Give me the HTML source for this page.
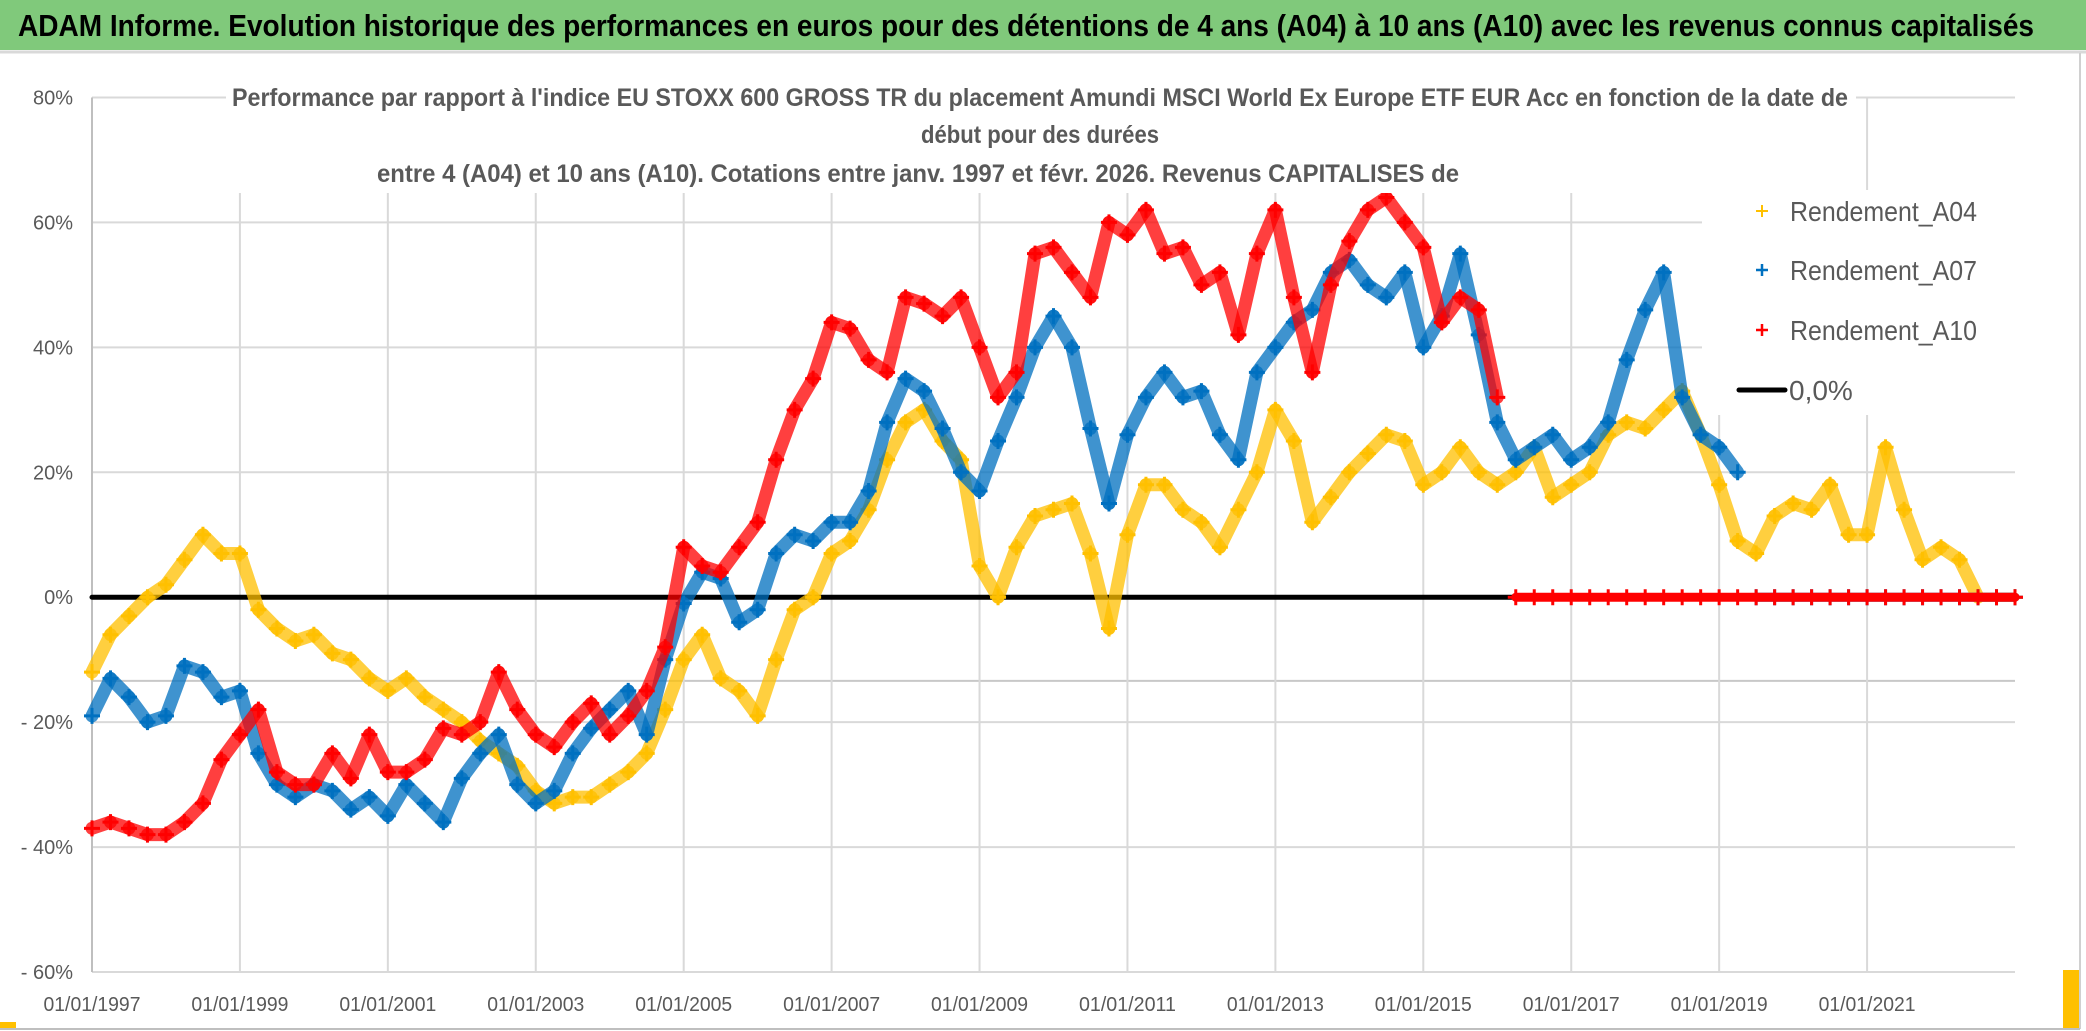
<!DOCTYPE html>
<html><head><meta charset="utf-8"><style>
html,body{margin:0;padding:0;background:#fff;}
svg{display:block;}
text{font-family:"Liberation Sans",sans-serif;}
</style></head><body>
<svg id="chart" width="2086" height="1031" viewBox="0 0 2086 1031" xmlns="http://www.w3.org/2000/svg">
<rect x="0" y="0" width="2086" height="1031" fill="#fff"/>
<rect x="0" y="0" width="2086" height="50" fill="#80c97b"/>
<line x1="0" y1="52" x2="2086" y2="52" stroke="#d9d9d9" stroke-width="3"/>
<text x="18" y="36" font-size="31" font-weight="bold" fill="#000" textLength="2016" lengthAdjust="spacingAndGlyphs">ADAM Informe. Evolution historique des performances en euros pour des détentions de 4 ans (A04) à 10 ans (A10) avec les revenus connus capitalisés</text>
<g id="grid"></g>
<g id="axes"></g>
<g id="series"></g>
<rect x="226" y="78" width="1630" height="115" fill="#fff"/>
<g fill="#595959" font-size="25" font-weight="bold" text-anchor="middle">
<text x="1040" y="106" textLength="1616" lengthAdjust="spacingAndGlyphs">Performance par rapport à l'indice EU STOXX 600 GROSS TR  du placement Amundi MSCI World Ex Europe ETF EUR Acc en fonction de la date de</text>
<text x="1040" y="143" textLength="238" lengthAdjust="spacingAndGlyphs">début pour des durées</text>
<text x="918" y="182" textLength="1082" lengthAdjust="spacingAndGlyphs">entre 4 (A04) et 10 ans (A10). Cotations entre janv. 1997 et févr. 2026. Revenus CAPITALISES de</text>
</g>
<rect x="1702" y="190" width="313" height="225" fill="#fff"/>
<g id="legend" font-size="28" fill="#595959">
<g><path d="M1756 211h12M1762 205v12" stroke="#FFC000" stroke-width="2"/><text x="1790" y="221" textLength="187" lengthAdjust="spacingAndGlyphs">Rendement_A04</text></g>
<g><path d="M1756 270h12M1762 264v12" stroke="#0070C0" stroke-width="2.5"/><text x="1790" y="280" textLength="187" lengthAdjust="spacingAndGlyphs">Rendement_A07</text></g>
<g><path d="M1756 330h12M1762 324v12" stroke="#FF0000" stroke-width="2.5"/><text x="1790" y="340" textLength="187" lengthAdjust="spacingAndGlyphs">Rendement_A10</text></g>
<g><line x1="1739" y1="390" x2="1785" y2="390" stroke="#000" stroke-width="5" stroke-linecap="round"/><text x="1789" y="400">0,0%</text></g>
</g>
<line x1="2080" y1="53" x2="2080" y2="1029" stroke="#d0d0d0" stroke-width="2"/>
<line x1="0" y1="1029" x2="2080" y2="1029" stroke="#bfbfbf" stroke-width="2"/>
<rect x="2063" y="970" width="16" height="58" fill="#FFC000"/>
<rect x="0" y="1022" width="16" height="6" fill="#FFC000"/>
</svg>
<script>
const yTicks = [80, 60, 40, 20, 0, -20, -40, -60];
const yTickLabels = ["80%", "60%", "40%", "20%", "0%", "- 20%", "- 40%", "- 60%"];
const xTicks = [1997, 1999, 2001, 2003, 2005, 2007, 2009, 2011, 2013, 2015, 2017, 2019, 2021];
const xTickLabels = ["01/01/1997","01/01/1999","01/01/2001","01/01/2003","01/01/2005","01/01/2007","01/01/2009","01/01/2011","01/01/2013","01/01/2015","01/01/2017","01/01/2019","01/01/2021"];
const startYear = 1997;
const stepYears = 0.25;
const a04Values = [-12,-6,-3,0, 2,6,10,7, 7,-2,-5,-7, -6,-9,-10,-13, -15,-13,-16,-18, -20,-23,-25,-27, -31,-33,-32,-32, -30,-28,-25,-18, -10,-6,-13,-15, -19,-10,-2,0, 7,9,14,22, 28,30,25,22, 5,0,8,13, 14,15,7,-5, 10,18,18,14, 12,8,14,20, 30,25,12,16, 20,23,26,25, 18,20,24,20, 18,20,24,16, 18,20,26,28, 27,30,33,26, 18,9,7,13, 15,14,18,10, 10,24,14,6, 8,6,0, 0,0];
const a07Values = [-19,-13,-16,-20, -19,-11,-12,-16, -15,-25,-30,-32, -30,-31,-34,-32, -35,-30,-33,-36, -29,-25,-22,-30, -33,-31,-25,-21, -18,-15,-22,-10, -1,4,3,-4, -2,7,10,9, 12,12,17,28, 35,33,27,20, 17,25,32,40, 45,40,27,15, 26,32,36,32, 33,26,22,36, 40,44,46,52, 54,50,48,52, 40,45,55,42, 28,22,24,26, 22,24,28,38, 46,52,32,26, 24,20, 0,0,0,0,0,0,0,0,0,0,0,0,0,0,0];
const a10Values = [-37,-36,-37,-38, -38,-36,-33,-26, -22,-18,-28,-30, -30,-25,-29,-22, -28,-28,-26,-21, -22,-20,-12,-18, -22,-24,-20,-17, -22,-19,-15,-8, 8,5,4,8, 12,22,30,35, 44,43,38,36, 48,47,45,48, 40,32,36,55, 56,52,48,60, 58,62,55,56, 50,52,42,55, 62,48,36,50, 57,62,64,60, 56,44,48,46, 32, 0,0,0,0,0,0,0,0,0,0,0,0,0,0,0,0,0,0,0,0,0,0,0,0,0,0,0,0];
const extraLineValue = -13.4;

const NS = "http://www.w3.org/2000/svg";
const X0 = 92, X1 = 2015, Y_TOP = 97.5, Y_BOT = 972;
const xMin = 1997, xMax = 2023.0, yMin = -60, yMax = 80;
function xs(t){ return X0 + (t - xMin) / (xMax - xMin) * (X1 - X0); }
function ys(v){ return Y_BOT - (v - yMin) / (yMax - yMin) * (Y_BOT - Y_TOP); }
function mk(tag, attrs, parent){ const e = document.createElementNS(NS, tag); for (const k in attrs) e.setAttribute(k, attrs[k]); parent.appendChild(e); return e; }

const grid = document.getElementById('grid');
const axes = document.getElementById('axes');
yTicks.forEach((v, i) => {
  const l = mk('line', {x1: X0, x2: X1, y1: ys(v), y2: ys(v), stroke: '#d9d9d9', 'stroke-width': 2}, grid);
  
  
  const t = mk('text', {x: 73, y: ys(v) + 7, 'text-anchor': 'end', 'font-size': 20, fill: '#595959'}, axes);
  t.textContent = yTickLabels[i];
  
  
});
const ex = mk('line', {x1: X0, x2: X1, y1: ys(extraLineValue), y2: ys(extraLineValue), stroke: '#c8c8c8', 'stroke-width': 2}, grid);


xTicks.forEach((t, i) => {
  const l = mk('line', {x1: xs(t), x2: xs(t), y1: Y_TOP, y2: Y_BOT, stroke: '#d9d9d9', 'stroke-width': 2}, grid);
  
  
  const lb = mk('text', {x: xs(t), y: 1011, 'text-anchor': 'middle', 'font-size': 20, fill: '#595959', textLength: 97, lengthAdjust: 'spacingAndGlyphs'}, axes);
  lb.textContent = xTickLabels[i];
  
  
});
const yAxis = mk('line', {x1: X0, x2: X0, y1: Y_TOP, y2: Y_BOT, stroke: '#bfbfbf', 'stroke-width': 2}, axes);



const layer = document.getElementById('series');
const zl = mk('line', {x1: X0, x2: X1, y1: ys(0), y2: ys(0), stroke: '#000', 'stroke-width': 5, 'stroke-linecap': 'round'}, layer);



function drawSeries(vals, color, name, width){
  const g = mk('g', {}, layer);
  
  
  for (let i = 1; i < vals.length; i++) {
    const a = vals[i-1], b = vals[i];
    if ((a === 0 || b === 0) && Math.abs(a - b) > 12) continue;
    const zero = (a === 0 && b === 0);
    const s = mk('line', {x1: xs(startYear + (i-1)*stepYears), y1: ys(a), x2: xs(startYear + i*stepYears), y2: ys(b), stroke: color, 'stroke-width': zero ? 9 : width, 'stroke-linecap': 'round', opacity: zero ? 1 : 0.75}, g);
    
    
  }
  vals.forEach((v, i) => {
    const cx = xs(startYear + i*stepYears), cy = ys(v);
    const p = mk('path', {d: `M${cx-8} ${cy}h16M${cx} ${cy-8}v16`, stroke: color, 'stroke-width': 3}, g);
    
    
  });
}
drawSeries(a04Values, '#FFC000', 'series-a04', 13);
drawSeries(a07Values, '#0070C0', 'series-a07', 13);
drawSeries(a10Values, '#FF0000', 'series-a10', 13);
</script>
</body></html>
